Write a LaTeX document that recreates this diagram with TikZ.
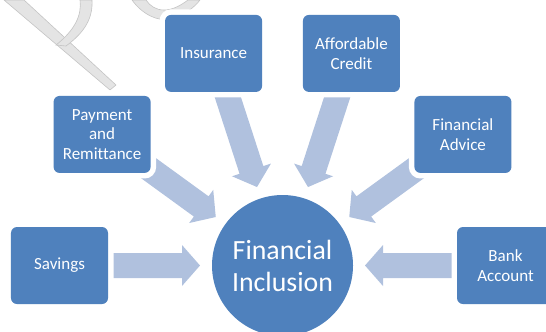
\documentclass[tikz,border=0pt]{standalone}
\usepackage{fontspec}
\setmainfont{Carlito}[Ligatures={NoCommon}]
\usetikzlibrary{calc}

\definecolor{boxblue}{HTML}{4F81BD}
\definecolor{arrowblue}{HTML}{B0C1DE}
\definecolor{markgray}{HTML}{E4E4E4}
\definecolor{markedge}{HTML}{C4C4C4}

\tikzset{
  itembox/.style={preaction={draw=white, line width=11bp}, fill=boxblue,
    rounded corners=6bp, minimum width=97bp, minimum height=77bp,
    inner sep=0pt, text=white, align=center,
    font=\fontsize{17bp}{19.5bp}\selectfont},
  hub/.style={circle, fill=boxblue, minimum size=141bp, inner sep=0pt,
    text=white, align=center, font=\fontsize{27.8bp}{32bp}\selectfont},
  wmstroke/.style={fill=markgray, draw=markedge, line width=0.6bp},
  % block arrow pointing towards the local origin from the +x side
  inarrow/.pic={
    \fill[arrowblue] (190,12.5) -- (100.5,12.5) -- (100.5,20.5) -- (82.5,0)
      -- (100.5,-20.5) -- (100.5,-12.5) -- (190,-12.5) -- cycle;
  }
}

\begin{document}
\begin{tikzpicture}[x=1bp, y=1bp]
\useasboundingbox (0,0) rectangle (546,-331);
\begin{scope}
\clip (0,0) rectangle (546,-331);

% faint watermark strokes
\path[wmstroke] (4,0) -- (24,0) -- (116,-85) -- (110,-90) -- cycle;
\path[wmstroke] (56,-45) .. controls (75,-30) and (82,-15) .. (80,0) -- (92,0)
  .. controls (93,-18) and (85,-32) .. (66,-46) -- cycle;
\path[wmstroke] (132,0) .. controls (142,-14) and (158,-22) .. (170,-19)
  .. controls (184,-15) and (194,-8) .. (200,0) -- (188,0)
  .. controls (180,-6) and (172,-10) .. (164,-10)
  .. controls (156,-10) and (150,-6) .. (146,0) -- cycle;

% central hub
\node[hub] (fi) at (282.5,-265.5) {Financial\\Inclusion};

% block arrows converging on the hub
\foreach \a in {180,144,108,72,36,0}
  \pic[rotate=\a] at (fi.center) {inarrow};

% surrounding items, on a circle around the hub
\node[itembox] (sav) at ($(fi.center)+(180:223)$) {Savings};
\node[itembox] (pay) at ($(fi.center)+(144:223)$) {Payment\\and\\Remittance};
\node[itembox] (ins) at ($(fi.center)+(108:223)$) {Insurance};
\node[itembox] (cre) at ($(fi.center)+(72:223)$) {Affordable\\Credit};
\node[itembox] (adv) at ($(fi.center)+(36:223)$) {Financial\\Advice};
\node[itembox] (bank) at ($(fi.center)+(0:223)$) {Bank\\Account};
\end{scope}
\end{tikzpicture}
\end{document}
